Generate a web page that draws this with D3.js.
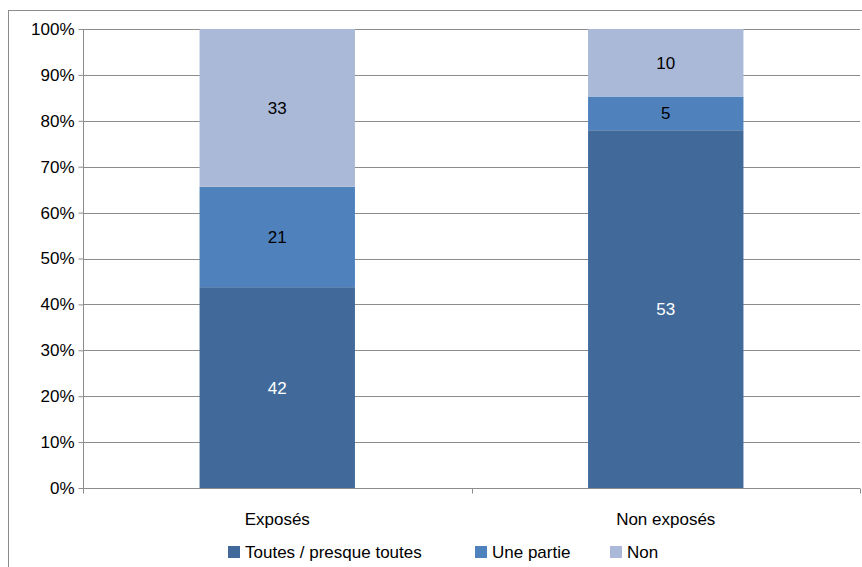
<!DOCTYPE html>
<html><head><meta charset="utf-8">
<script src="https://cdn.jsdelivr.net/npm/d3@7"></script>
<style>body{margin:0;background:#fff}text{font-family:'Liberation Sans',Arial,sans-serif}</style>
</head><body>
<script>
var categories = ['Exposés', 'Non exposés']
var seriesNames = ['Toutes / presque toutes', 'Une partie', 'Non']
var toutes = [42, 53]
var partie = [21, 5]
var non = [33, 10]
var colors = ['#416a9b', '#4f81bd', '#aab9d7']
var tickLabels = ['0%','10%','20%','30%','40%','50%','60%','70%','80%','90%','100%']

var W = 862, H = 567
var margin = {top: 29, right: 2, bottom: 79, left: 83}
var svg = d3.select('body').append('svg').attr('width', W).attr('height', H)
svg.append('rect').attr('x', 8.5).attr('y', 10.5).attr('width', W).attr('height', H)
  .attr('fill', 'none').attr('stroke', '#8c8c8c')

var x = d3.scaleBand().domain(categories).range([margin.left, W - margin.right]).paddingInner(0).paddingOuter(0)
var y = d3.scaleLinear().domain([0, 1]).range([H - margin.bottom, margin.top])

// gridlines
svg.append('g').selectAll('line').data(d3.range(1, 11).map(function(i){return i/10}))
  .enter().append('line')
  .attr('x1', margin.left).attr('x2', W - margin.right)
  .attr('y1', function(d){return Math.round(y(d)) + 0.5}).attr('y2', function(d){return Math.round(y(d)) + 0.5})
  .attr('stroke', '#8c8c8c')

var data = categories.map(function(c, i){
  var vals = [toutes[i], partie[i], non[i]]
  var tot = d3.sum(vals), acc = 0
  return vals.map(function(v, k){
    var d = {cat: c, k: k, v: v, y0: acc / tot, y1: (acc + v) / tot}
    acc += v
    return d
  })
})

var bw = x.bandwidth() * 0.4
var segs = svg.append('g').selectAll('g').data(d3.merge(data)).enter().append('g')
segs.append('rect')
  .attr('x', function(d){return x(d.cat) + (x.bandwidth() - bw)/2})
  .attr('width', bw)
  .attr('y', function(d){return y(d.y1)})
  .attr('height', function(d){return y(d.y0) - y(d.y1)})
  .attr('fill', function(d){return colors[d.k]})
segs.append('text')
  .attr('x', function(d){return x(d.cat) + x.bandwidth()/2})
  .attr('y', function(d){return (y(d.y0) + y(d.y1))/2 + 6})
  .attr('text-anchor', 'middle').attr('font-size', '17px')
  .attr('fill', function(d){return d.k === 0 ? '#fff' : '#000'})
  .text(function(d){return d.v})

// axes
var yAxis = d3.axisLeft(y).tickValues(d3.range(0, 11).map(function(i){return i/10}))
  .tickFormat(function(d, i){return tickLabels[i]}).tickSize(5).tickPadding(4)
var gy = svg.append('g').attr('transform', 'translate(' + (margin.left + 0.5) + ',0)').call(yAxis)
gy.selectAll('text').attr('font-size', '17px').attr('fill', '#000')
gy.selectAll('line,path').attr('stroke', '#8c8c8c')
gy.select('.domain').attr('d', 'M0,' + y(1) + 'V' + y(0))

var gx = svg.append('g').attr('transform', 'translate(0,' + (Math.round(y(0)) + 0.5) + ')')
gx.append('line').attr('x1', margin.left).attr('x2', W - margin.right).attr('stroke', '#8c8c8c')
gx.selectAll('.t').data([margin.left, x(categories[1]), W - margin.right]).enter().append('line')
  .attr('x1', function(d){return Math.round(d) + 0.5}).attr('x2', function(d){return Math.round(d) + 0.5})
  .attr('y1', 0).attr('y2', 5).attr('stroke', '#8c8c8c')
gx.selectAll('text').data(categories).enter().append('text')
  .attr('x', function(d){return x(d) + x.bandwidth()/2}).attr('y', 36)
  .attr('text-anchor', 'middle').attr('font-size', '17px').text(function(d){return d})

// legend
var lx = [228, 475, 610]
var lg = svg.append('g').selectAll('g').data(seriesNames).enter().append('g')
  .attr('transform', function(d, i){return 'translate(' + lx[i] + ',546)'})
lg.append('rect').attr('width', 12).attr('height', 12).attr('fill', function(d, i){return colors[i]})
lg.append('text').attr('x', 17).attr('y', 12).attr('font-size', '17px').text(function(d){return d})
</script>
</body></html>
